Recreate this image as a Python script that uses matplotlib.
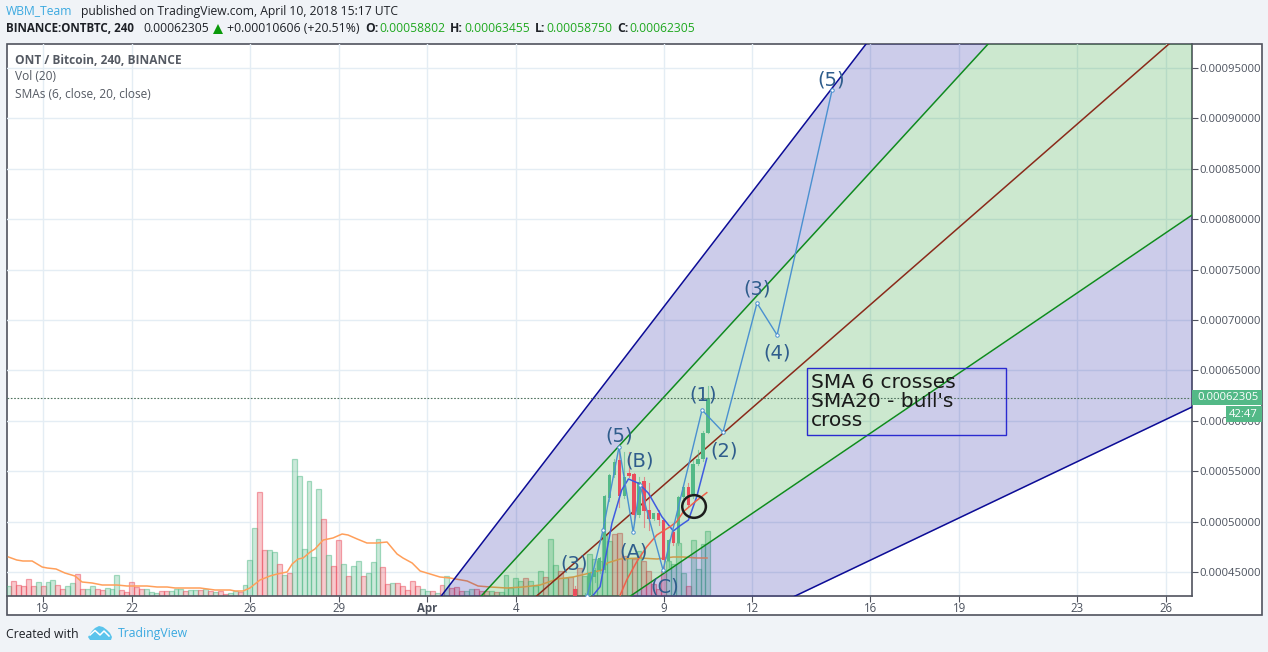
"""ONT / Bitcoin 4h chart with fan channels, SMAs and a wave count."""
import matplotlib

matplotlib.use("Agg")
import matplotlib.pyplot as plt
import numpy as np
from matplotlib.lines import Line2D
from matplotlib.patches import Ellipse, Polygon, Rectangle

plt.rcParams["font.family"] = ["Open Sans", "DejaVu Sans"]

W, H = 1268, 652

# x axis is in days counted from 1 March, prices are in units of 1e-5 BTC
X_MIN, X_MAX = 17.78, 57.88
Y_MIN, Y_MAX = 42.62, 97.38
VOL_TOP = 552.0

tick_days = [19, 22, 26, 29, 32, 35, 40, 43, 47, 50, 54, 57]
tick_labels = ["19", "22", "26", "29", "Apr", "4", "9", "12", "16", "19", "23", "26"]
price_ticks = [45, 50, 55, 60, 65, 70, 75, 80, 85, 90, 95]

volume = [
    10, 15, 11, 10, 17, 10, 14, 10, 14, 16, 11, 7, 10, 13, 22, 7, 7, 10, 7, 6,
    8, 7, 21, 6, 4, 14, 9, 7, 7, 4, 3, 5, 5, 5, 7, 7, 5, 6, 6, 6,
    7, 5, 4, 5, 2, 3, 5, 4, 11, 36, 68, 104, 46, 46, 44, 32, 21, 23, 137, 120,
    47, 115, 39, 107, 77, 41, 30, 56, 32, 20, 30, 35, 20, 23, 34, 57, 29, 12, 13, 13,
    10, 6, 15, 10, 7, 5, 5, 3, 11, 20, 8, 9, 5, 5, 7, 7, 5, 5, 5, 4,
    4, 21, 8, 18, 15, 18, 15, 10,
    25, 19, 57, 31, 25, 18, 19, 7, 28, 20, 42, 37, 35, 62, 55, 62, 63, 40, 38, 37,
    45, 35, 25, 12, 7, 25, 35, 32, 53, 23, 10, 56, 27, 52, 65,
]
volume_up = (
    "grrrrrgrgg" "rrggrrggrr" "gggrrrrrgg" "grrgggrggr" "grgrrggrgg" "grrggrgrgg"
    "ggggrgrrgr" "ggrgggrrgr" "rrrrggrgrg" "rrrggrrrgr" "gggggrgg"
    "grggrgrgrg" "gggggrrrgr" "grrrrrgggg" "rgggg"
)

vol_ma_days = [
    17.83, 18.11, 18.32, 18.63, 18.97, 19.14, 19.44, 19.74, 20.08, 20.32, 20.66, 21.0,
    21.5, 21.84, 22.52, 22.86, 23.2, 23.47, 24.31, 24.82, 25.33, 25.5, 25.77, 26.0,
    26.17, 26.34, 26.68, 26.92, 27.26, 27.43, 27.63, 27.8, 28.04, 28.2, 28.48, 28.81,
    29.12, 29.32, 29.63, 29.96, 30.3, 30.64, 30.98, 31.18, 31.49, 31.76, 32.1, 32.43,
    32.77, 33.35, 33.72, 34.13, 34.7, 35.24, 35.82, 36.39, 36.94, 37.51, 37.92, 38.09,
    38.53, 39.2, 39.78, 40.32, 40.66, 41.13, 41.47,
]
vol_ma = [
    39, 36, 35, 35, 29, 28, 27, 23, 20, 14, 13, 11,
    11, 10, 10, 9, 9, 8, 8, 6, 6, 5, 5, 8,
    12, 16, 20, 22, 24, 32, 37, 38, 44, 47, 56, 58,
    62, 61, 57, 53, 53, 54, 42, 38, 33, 25, 22, 19,
    18, 15, 10, 9, 8, 9, 11, 17, 19, 23, 26, 33,
    37, 38, 37, 39, 39, 38, 38,
]

# last 28 candles, the older ones lie under the visible price range
candle_open = [
    43.28, 42.0, 42.1, 42.4, 44.54, 45.2, 45.2, 52.37, 54.62, 56.11, 52.54, 54.79, 54.72, 50.65,
    54.03, 51.15, 50.26, 50.82, 50.16, 46.12, 48.93, 47.91, 52.47, 53.4, 52.74, 55.71, 56.18, 58.80,
]
candle_high = [
    43.6, 42.5, 42.9, 45.0, 45.4, 46.5, 52.6, 54.7, 56.2, 57.43, 56.94, 56.94, 54.85, 54.46,
    54.46, 53.8, 50.9, 51.15, 50.3, 48.3, 49.2, 52.5, 53.6, 53.8, 56.11, 57.1, 59.0, 63.455,
]
candle_low = [
    42.0, 41.8, 41.9, 42.2, 44.0, 44.9, 45.0, 52.0, 54.4, 51.48, 52.3, 54.4, 49.83, 50.49,
    49.5, 49.17, 50.2, 49.66, 45.2, 45.53, 47.7, 47.7, 52.3, 51.48, 52.31, 55.6, 56.0, 58.75,
]
candle_close = [
    42.55, 42.3, 42.6, 44.87, 45.2, 46.36, 52.54, 54.59, 55.95, 52.54, 54.39, 54.52, 50.65, 53.96,
    51.05, 50.26, 50.82, 50.16, 46.19, 48.17, 47.91, 52.44, 53.4, 51.65, 55.71, 56.18, 58.76, 62.305,
]

sma6_days = [37.62, 37.85, 38.02, 38.25, 38.58, 38.81, 39.15, 39.49, 39.94, 40.33, 40.56, 40.84, 41.12, 41.46]
sma6 = [42.72, 43.54, 46.19, 49.83, 53.13, 54.23, 53.8, 52.8, 50.49, 49.07, 49.6, 50.16, 52.47, 56.28]
sma20_days = [38.53, 38.75, 39.09, 39.43, 39.77, 40.22, 40.44, 40.67, 41.07, 41.46]
sma20 = [42.72, 44.21, 46.02, 47.51, 48.67, 49.5, 49.99, 50.99, 51.98, 52.87]

wave_days = [37.41, 37.95, 38.49, 38.97, 39.2, 39.98, 41.3, 42.01, 43.16, 43.84, 45.7]
wave_price = [42.6, 49.17, 57.4, 48.97, 53.63, 45.2, 61.07, 58.89, 71.68, 68.51, 92.8]

wave_labels = ["(5)", "(3)", "(4)", "(1)", "(2)", "(5)", "(B)", "(A)", "(C)", "(3)"]
wave_label_days = [45.67, 43.16, 43.84, 41.34, 42.05, 38.49, 39.2, 39.0, 40.05, 36.97]
wave_label_price = [93.8, 73.07, 66.72, 62.56, 57.0, 58.49, 56.01, 46.98, 43.51, 45.79]

# fan lines, two points each: (day, price)
fan_top = [(32.50, 42.72), (46.85, 97.38)]
fan_upper = [(33.86, 42.72), (50.98, 97.38)]
fan_mid = [(35.82, 42.92), (57.1, 97.38)]
fan_lower = [(38.93, 42.72), (57.88, 80.41)]
fan_bottom = [(44.45, 42.62), (57.88, 61.37)]

last_price = 62.305

GREEN = "#53b987"
RED = "#eb4d5c"
AXIS_TEXT = "#4c525e"


def px_text(fig, x, y, s, **kw):
    kw.setdefault("va", "center")
    kw.setdefault("ha", "left")
    kw.setdefault("zorder", 6)
    return fig.text(x / W, 1 - y / H, s, **kw)


def fan_y(line, xs):
    (x0, y0), (x1, y1) = line
    return y0 + (xs - x0) * (y1 - y0) / (x1 - x0)


fig = plt.figure(figsize=(W / 100, H / 100), dpi=100, facecolor="#f0f3f7")

# outer frame holding chart and both axis strips
fig.add_artist(Rectangle((7 / W, 1 - 615 / H), 1255 / W, 571 / H, transform=fig.transFigure,
                         facecolor="white", edgecolor="#50535e", linewidth=1.2, zorder=-1))

ax = fig.add_axes([7 / W, 1 - 596 / H, 1185 / W, 552 / H])
ax.patch.set_visible(False)
ax.set_xlim(X_MIN, X_MAX)
ax.set_ylim(Y_MIN, Y_MAX)
ax.set_axisbelow(True)
ax.grid(True, color="#e4edf4", linewidth=1)

# volume sits on the floor of the price pane
to_price = (Y_MAX - Y_MIN) / VOL_TOP
bar_days = 17.8333 + np.arange(len(volume)) / 6
vol = np.array(volume) * to_price
for d, v, up in zip(bar_days, vol, volume_up):
    c = matplotlib.colors.to_rgb(GREEN if up == "g" else RED)
    ax.bar(d, v, width=1 / 6, bottom=Y_MIN, facecolor=c + (0.3,), edgecolor=c + (0.5,), linewidth=0.9, zorder=2)
ax.plot(vol_ma_days, Y_MIN + np.array(vol_ma) * to_price, color="#ff9f5a", linewidth=1.1, zorder=3)

# fan channels
xs = np.array([30.0, X_MAX])
ax.fill_between(xs, fan_y(fan_top, xs), fan_y(fan_upper, xs), color="#000099", alpha=0.2, linewidth=0, zorder=4)
ax.fill_between(xs, fan_y(fan_upper, xs), fan_y(fan_lower, xs), color="#009010", alpha=0.2, linewidth=0, zorder=4)
ax.fill_between(xs, fan_y(fan_lower, xs), fan_y(fan_bottom, xs), color="#000099", alpha=0.2, linewidth=0, zorder=4)
for line, col in [(fan_top, "#0c0c96"), (fan_upper, "#0f8a1f"), (fan_mid, "#8a2a1a"),
                  (fan_lower, "#0f8a1f"), (fan_bottom, "#0c0c96")]:
    ax.plot(xs, fan_y(line, xs), color=col, linewidth=1.1, zorder=5)

# candles
candle_days = bar_days[-len(candle_open):]
for d, o, h, l, c in zip(candle_days, candle_open, candle_high, candle_low, candle_close):
    col = GREEN if c >= o else RED
    ax.plot([d, d], [l, h], color=col, linewidth=0.8, alpha=0.6, zorder=6)
    ax.bar(d, abs(c - o), width=0.115, bottom=min(o, c), color=col, linewidth=0, zorder=7)

ax.plot(sma6_days, sma6, color="#3f5be0", linewidth=1.1, zorder=8)
ax.plot(sma20_days, sma20, color="#f0604a", linewidth=1.1, zorder=8)

ax.axhline(last_price, color="#50735f", linewidth=0.8, linestyle=(0, (1.5, 1.5)), zorder=8)

# wave count
ax.plot(wave_days, wave_price, color="#4a90d0", linewidth=1.0, marker="o", markersize=2.5,
        markerfacecolor="white", markeredgewidth=0.7, zorder=9)
for s, d, p in zip(wave_labels, wave_label_days, wave_label_price):
    ax.text(d, p, s, color="#2f5d8c", fontsize=14, ha="center", va="center",
            family=["DejaVu Sans"], zorder=10)

ax.add_patch(Ellipse((41.03, 51.5), 0.8, 2.25, facecolor="none", edgecolor="#1c1c1c", linewidth=1.8, zorder=10))

# note box
ax.add_patch(Rectangle((44.86, 58.6), 6.74, 6.65, facecolor="none", edgecolor="#2a2ad0", linewidth=1, zorder=10))
ax.text(44.98, 61.9, "SMA 6 crosses\nSMA20 - bull's\ncross", color="#1a1a1a", fontsize=14.5, ha="left",
        va="center", linespacing=1.0, family=["DejaVu Sans"], zorder=11)

# axis strips
ax.set_xticks(tick_days)
ax.set_xticklabels(tick_labels)
ax.set_yticks(price_ticks)
ax.set_yticklabels([f"{p * 1e-5:.8f}" for p in price_ticks])
ax.yaxis.tick_right()
ax.tick_params(axis="x", length=4, color="#50535e", labelsize=8.3, labelcolor=AXIS_TEXT, pad=0.5)
ax.tick_params(axis="y", length=4, color="#50535e", labelsize=8.1, labelcolor=AXIS_TEXT, pad=1)
for lab in ax.get_xticklabels():
    if lab.get_text() == "Apr":
        lab.set_fontweight("bold")
for side in ["top", "left"]:
    ax.spines[side].set_visible(False)
for side in ["bottom", "right"]:
    ax.spines[side].set_color("#50535e")
    ax.spines[side].set_linewidth(1.2)

# price and countdown tags
fig.add_artist(Rectangle((1192 / W, 1 - 405 / H), 70 / W, 15 / H, transform=fig.transFigure, facecolor=GREEN, linewidth=0, zorder=5))
fig.add_artist(Rectangle((1226 / W, 1 - 422 / H), 36 / W, 16 / H, transform=fig.transFigure, facecolor=GREEN, linewidth=0, zorder=5))
px_text(fig, 1197, 397.5, "0.00062305", color="white", fontsize=8.1)
px_text(fig, 1229, 414.5, "42:47", color="white", fontsize=8.1)

# pane legend
px_text(fig, 15, 60, "ONT / Bitcoin, 240, BINANCE", color="#555a63", fontsize=8.6, fontweight="bold")
px_text(fig, 15, 77, "Vol (20)", color="#555a63", fontsize=8.6)
px_text(fig, 15, 94, "SMAs (6, close, 20, close)", color="#555a63", fontsize=8.6)

# header
DARK = "#1e2127"
VAL = "#1fa81f"
px_text(fig, 6, 11, "WBM_Team", color="#3ba9e0", fontsize=8.7)
px_text(fig, 81, 11, "published on TradingView.com, April 10, 2018 15:17 UTC", color=DARK, fontsize=8.7)
px_text(fig, 6, 29, "BINANCE:ONTBTC, 240", color=DARK, fontsize=8.4, fontweight="bold")
px_text(fig, 143, 29, "0.00062305", color=DARK, fontsize=8.7)
fig.add_artist(Polygon([(213 / W, 1 - 34 / H), (223 / W, 1 - 34 / H), (218 / W, 1 - 24 / H)],
                       transform=fig.transFigure, facecolor="#0a9a0a", linewidth=0, zorder=5))
px_text(fig, 227, 29, "+0.00010606 (+20.51%)", color=DARK, fontsize=8.8)
for x_l, lab, x_v, val in [(365, "O:", 379, "0.00058802"), (450, "H:", 464, "0.00063455"),
                           (535, "L:", 546, "0.00058750"), (617, "C:", 629, "0.00062305")]:
    px_text(fig, x_l, 29, lab, color=DARK, fontsize=8.7, fontweight="bold")
    px_text(fig, x_v, 29, val, color=VAL, fontsize=8.7)

# footer
px_text(fig, 6, 634, "Created with", color=DARK, fontsize=8.8)
px_text(fig, 118, 634, "TradingView", color="#3ba9e0", fontsize=8.8)
logo = [(88, 637), (92, 631), (95, 628), (99, 626), (103, 627), (107, 630), (110, 633), (112, 637), (111, 640), (90, 640)]
fig.add_artist(Polygon([(x / W, 1 - y / H) for x, y in logo], transform=fig.transFigure, facecolor="#5bc4ec", linewidth=0, zorder=5))
zig = [(90, 635), (95, 630.5), (100, 635), (104, 631), (109, 636)]
fig.add_artist(Line2D([x / W for x, y in zig], [1 - y / H for x, y in zig], transform=fig.transFigure,
                      color="white", linewidth=1.1, zorder=6))

fig.savefig("out.png", dpi=100, facecolor=fig.get_facecolor())
plt.close(fig)
